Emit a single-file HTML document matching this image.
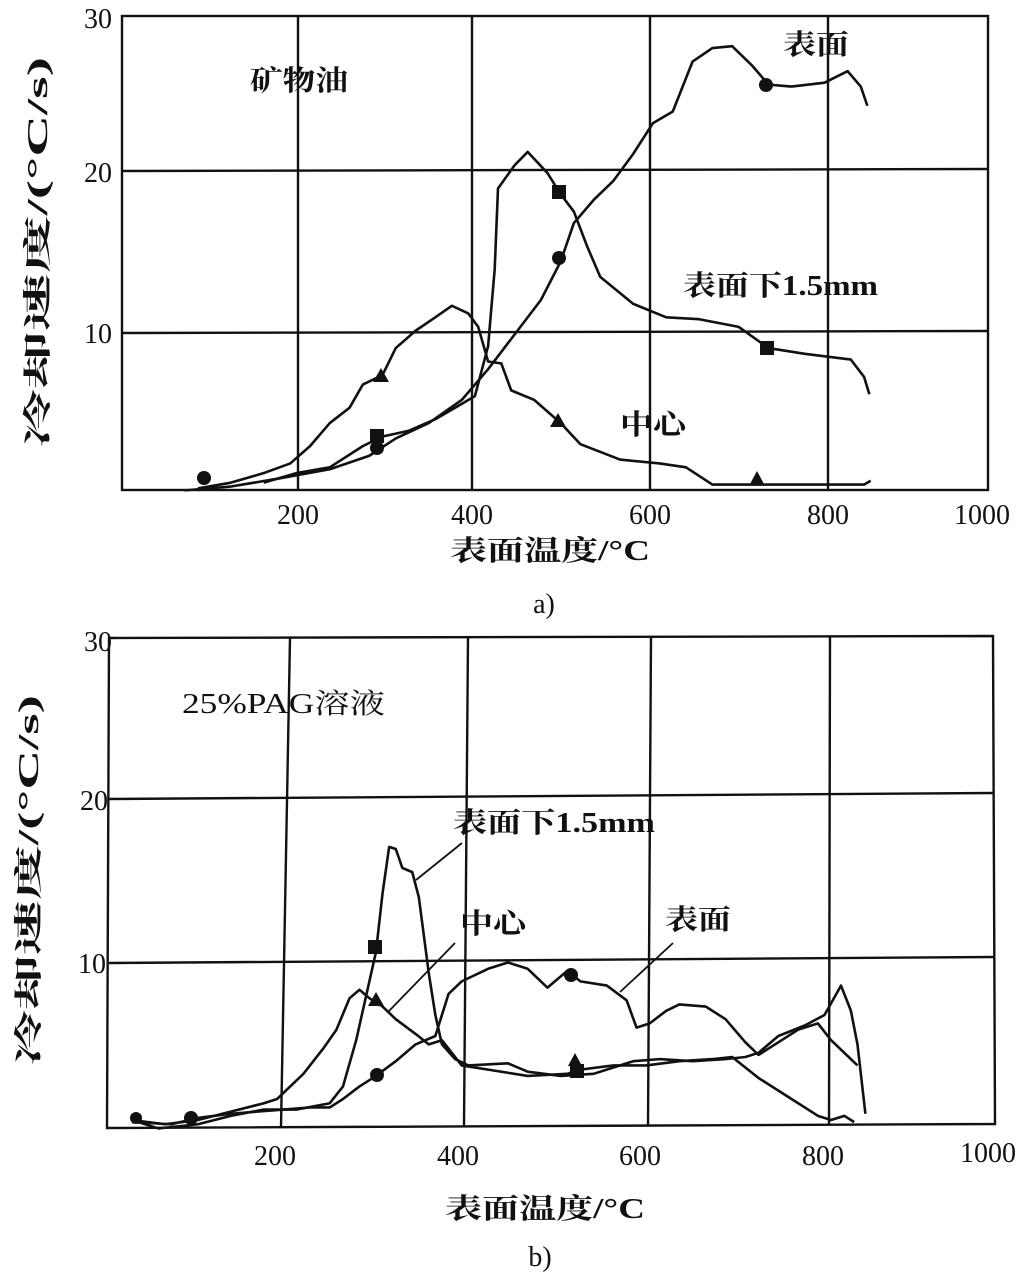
<!DOCTYPE html>
<html><head><meta charset="utf-8"><style>
html,body{margin:0;padding:0;background:#fff;}
svg{display:block;}
text{font-family:"Liberation Serif","Noto Serif CJK SC","Noto Sans CJK SC",serif;fill:#111;}
.c{font-family:"Liberation Serif","Noto Sans CJK SC",sans-serif;font-weight:bold;}
.t{font-size:28px;}
</style></head><body>
<svg width="1029" height="1275" viewBox="0 0 1029 1275" xmlns="http://www.w3.org/2000/svg">
<g stroke="#111" stroke-width="2.4" fill="none">
<rect x="122" y="16" width="866" height="474"/>
<line x1="298" y1="16" x2="298" y2="490"/><line x1="472" y1="16" x2="472" y2="490"/>
<line x1="650" y1="16" x2="650" y2="490"/><line x1="828" y1="16" x2="828" y2="490"/>
<line x1="122" y1="171" x2="988" y2="169"/><line x1="122" y1="333" x2="988" y2="331"/>
<path d="M109 638 L993 636 L995 1124 L107 1128 Z"/>
<line x1="290" y1="638" x2="281" y2="1127"/><line x1="468" y1="637" x2="464" y2="1126"/>
<line x1="651" y1="637" x2="648" y2="1126"/><line x1="830" y1="636" x2="829" y2="1125"/>
<line x1="109" y1="799" x2="994" y2="793"/><line x1="109" y1="963" x2="994" y2="957"/>
</g>
<g fill="none" stroke="#111" stroke-width="2.6" stroke-linejoin="round">
<g transform="scale(0.6596,0.3846)">
<polyline vector-effect="non-scaling-stroke" points="280,1275 350,1265 420,1245 500,1220 560,1185 600,1140 650,1100 700,1040 740,960 780,870 820,780 850,680 870,580 900,520 930,470 960,400 990,320 1020,290 1050,160 1080,125 1110,120 1140,170 1165,220 1200,225 1250,215 1285,185 1305,225 1315,275"/>
<polyline vector-effect="non-scaling-stroke" points="400,1255 450,1230 500,1215 550,1160 580,1135 620,1120 660,1090 700,1050 720,1030 740,900 750,700 755,490 780,430 800,395 830,450 850,505 870,550 890,640 910,720 960,790 1010,825 1060,830 1120,850 1165,905 1220,920 1290,935 1310,980 1318,1025"/>
<polyline vector-effect="non-scaling-stroke" points="300,1270 350,1255 400,1230 440,1205 470,1160 500,1100 530,1060 550,1000 580,975 600,905 630,860 660,825 685,795 710,815 725,850 740,940 760,945 775,1015 810,1040 850,1100 880,1155 940,1195 1000,1205 1040,1215 1080,1260 1150,1260 1310,1260 1320,1250"/>
</g>
<g transform="translate(0,620) scale(0.6596,0.4202)">
<polyline vector-effect="non-scaling-stroke" points="200,1190 240,1210 300,1200 350,1180 400,1165 450,1165 500,1150 520,1110 540,1000 560,860 570,790 580,650 590,540 600,545 610,590 625,600 635,660 650,840 660,940 670,1010 690,1045 710,1060 770,1055 800,1075 850,1085 900,1080 930,1065 960,1050 1000,1045 1050,1050 1100,1045 1130,1040 1150,1030 1180,990 1220,965 1250,940 1275,870 1290,930 1300,1010 1312,1175"/>
<polyline vector-effect="non-scaling-stroke" points="200,1190 250,1200 300,1190 350,1170 400,1150 420,1140 460,1080 490,1020 510,975 530,900 545,880 560,900 580,920 600,950 630,985 650,1010 670,1000 690,1040 700,1060 740,1070 800,1085 860,1080 880,1070 930,1060 980,1060 1030,1050 1080,1045 1110,1040 1150,1090 1200,1140 1240,1180 1260,1190 1280,1180 1295,1195"/>
<polyline vector-effect="non-scaling-stroke" points="200,1195 260,1200 300,1185 350,1175 390,1170 430,1165 470,1160 500,1160 520,1140 545,1110 570,1085 600,1050 630,1010 660,990 680,890 700,860 740,830 770,815 800,830 830,875 860,835 880,860 920,870 950,905 965,970 985,960 1010,930 1030,915 1070,920 1100,950 1130,1005 1150,1035 1180,1005 1210,975 1240,960 1260,1000 1300,1060"/>
</g>
<line x1="462" y1="843" x2="416" y2="880" stroke-width="1.8"/>
<line x1="455" y1="943" x2="389" y2="1011" stroke-width="1.8"/>
<line x1="673" y1="943" x2="620" y2="992" stroke-width="1.8"/>
</g>
<g fill="#111">
<circle cx="204" cy="478" r="7"/><circle cx="377" cy="448" r="7"/><circle cx="559" cy="258" r="7"/><circle cx="766" cy="85" r="7"/>
<rect x="370" y="429" width="14" height="14"/><rect x="552" y="185" width="14" height="14"/><rect x="760" y="341" width="14" height="14"/>
<path d="M381 368 L389 382 L373 382Z"/><path d="M558 413 L566 427 L550 427Z"/><path d="M757 471 L764 484 L750 484Z"/>
<rect x="368" y="940" width="14" height="14"/><path d="M376 992 L384 1006 L368 1006Z"/><circle cx="377" cy="1075" r="7"/>
<rect x="570" y="1064" width="14" height="14"/><circle cx="571" cy="975" r="7"/><path d="M575 1053 L582 1066 L568 1066Z"/>
<circle cx="136" cy="1118" r="6"/><circle cx="191" cy="1118" r="7"/>
</g>
<g class="t">
<text x="112" y="28" text-anchor="end">30</text>
<text x="112" y="182" text-anchor="end">20</text>
<text x="112" y="343" text-anchor="end">10</text>
<text x="298" y="524" text-anchor="middle">200</text><text x="472" y="524" text-anchor="middle">400</text>
<text x="650" y="524" text-anchor="middle">600</text><text x="828" y="524" text-anchor="middle">800</text>
<text x="982" y="524" text-anchor="middle">1000</text>
<text x="112" y="651" text-anchor="end">30</text>
<text x="108" y="810" text-anchor="end">20</text>
<text x="106" y="973" text-anchor="end">10</text>
<text x="275" y="1165" text-anchor="middle">200</text><text x="458" y="1165" text-anchor="middle">400</text>
<text x="640" y="1165" text-anchor="middle">600</text><text x="823" y="1165" text-anchor="middle">800</text>
<text x="988" y="1162" text-anchor="middle">1000</text>
</g>
<g class="c" font-size="28">
<text x="250" y="90" textLength="98" lengthAdjust="spacingAndGlyphs">矿物油</text>
<text x="783" y="54" textLength="66" lengthAdjust="spacingAndGlyphs">表面</text>
<text x="683" y="295" textLength="195" lengthAdjust="spacingAndGlyphs">表面下1.5mm</text>
<text x="620" y="434" textLength="66" lengthAdjust="spacingAndGlyphs">中心</text>
<text x="450" y="560" textLength="200" lengthAdjust="spacingAndGlyphs">表面温度/°C</text>
<text x="544" y="613" text-anchor="middle" font-weight="normal">a)</text>
<text x="47" y="252" text-anchor="middle" transform="rotate(-90 47 252)" textLength="390" lengthAdjust="spacingAndGlyphs">冷却速度/(°C/s)</text>
<text x="182" y="713" font-weight="normal" textLength="203" lengthAdjust="spacingAndGlyphs">25%PAG溶液</text>
<text x="453" y="832" textLength="202" lengthAdjust="spacingAndGlyphs">表面下1.5mm</text>
<text x="460" y="933" textLength="66" lengthAdjust="spacingAndGlyphs">中心</text>
<text x="665" y="929" textLength="66" lengthAdjust="spacingAndGlyphs">表面</text>
<text x="445" y="1218" textLength="200" lengthAdjust="spacingAndGlyphs">表面温度/°C</text>
<text x="540" y="1266" text-anchor="middle" font-weight="normal">b)</text>
<text x="38" y="880" text-anchor="middle" transform="rotate(-90 38 880)" textLength="370" lengthAdjust="spacingAndGlyphs">冷却速度/(°C/s)</text>
</g>
</svg>
</body></html>
